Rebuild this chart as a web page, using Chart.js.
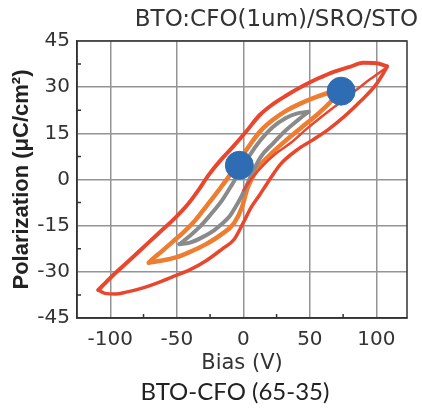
<!DOCTYPE html>
<html>
<head>
<meta charset="utf-8">
<script src="https://cdn.jsdelivr.net/npm/chart.js@4.4.1/dist/chart.umd.min.js"></script>
<style>
  html, body { margin: 0; padding: 0; background: #fff; }
</style>
</head>
<body>
<canvas id="chart" width="422" height="409"></canvas>
<script>
// P-E loops: bias in V, polarization in uC/cm2
const redUpperV = [108, 100, 90, 80, 68, 56, 44, 32, 22, 12, 2, -8, -18, -26, -34, -42, -52, -64, -76, -88, -100, -106, -109];
const redUpperP = [36.8, 37.8, 37.9, 36.6, 35.0, 32.8, 30.2, 27.2, 24.4, 20.8, 15.5, 10.5, 5.8, 1.5, -3.6, -8.2, -12.8, -17.6, -22.4, -27.2, -32.0, -34.6, -35.9];
const redLowerV = [-109, -104, -96, -88, -76, -64, -52, -40, -28, -16, -7, 0, 6, 12, 18, 28, 40, 52, 64, 76, 88, 100, 108];
const redLowerP = [-35.9, -37.0, -37.2, -36.6, -35.3, -33.5, -31.4, -29.3, -26.4, -22.6, -19.5, -14.0, -9.0, -5.2, -1.2, 5.0, 9.5, 12.8, 16.3, 20.5, 25.4, 31.0, 36.5];
const redInitV = [0, 6, 14, 24, 36, 48, 60, 72, 84, 96, 108];
const redInitP = [-3.5, 0.2, 4.2, 8.3, 12.0, 16.6, 20.8, 24.8, 28.8, 32.8, 36.5];

const orangeUpperV = [72, 64, 56, 44, 32, 22, 13, 5, -3, -10, -18, -28, -36, -45, -53, -62, -67, -71];
const orangeUpperP = [28.6, 28.1, 27.0, 24.9, 22.3, 19.3, 15.8, 11.3, 6.2, 1.5, -3.2, -8.8, -13.2, -17.2, -20.2, -23.6, -25.4, -27.0];
const orangeLowerV = [-71, -62, -50, -40, -28, -17, -7, -1, 3, 8, 13, 22, 32, 44, 56, 66, 72];
const orangeLowerP = [-27.0, -26.4, -25.2, -23.5, -21.0, -18.0, -14.2, -9.0, -3.0, 1.5, 4.8, 8.8, 12.7, 17.0, 21.3, 25.4, 28.6];

const grayUpperV = [49, 40, 32, 22, 13, 5, -2, -9, -16, -25, -33, -41, -48];
const grayUpperP = [22.0, 21.4, 20.0, 17.0, 12.8, 8.0, 3.0, -2.0, -6.8, -11.6, -15.5, -18.6, -21.0];
const grayLowerV = [-48, -40, -31, -22, -16, -10, -6, -2, 1, 6, 13, 22, 32, 41, 49];
const grayLowerP = [-21.0, -20.5, -18.8, -16.5, -14.4, -11.8, -9.0, -6.0, -3.4, 1.5, 7.3, 11.6, 16.0, 19.3, 22.0];

const dotV = [-3, 73.5];
const dotP = [4.6, 28.7];

const xMajor = 50, xMinor = 25;
const yMajor = 15, yMinor = 7.5;

const pts = (vs, ps) => vs.map((v, i) => ({ x: v, y: ps[i] }));

const RED = '#e8472e', ORANGE = '#ee7d31', GRAY = '#8a8a8a', BLUE = '#2e6db4';

function loop(data, color, width) {
    return {
        data: data,
        showLine: true,
        borderColor: color,
        borderWidth: width,
        pointRadius: 0,
        cubicInterpolationMode: 'monotone',
        borderCapStyle: 'round',
        borderJoinStyle: 'round'
    };
}

// minor ticks pointing inward, box around the plot, caption under the axis
const extras = {
    id: 'extras',
    afterDraw(chart) {
        const { ctx, chartArea: a, scales: { x, y } } = chart;
        ctx.save();
        ctx.strokeStyle = '#333';
        ctx.lineWidth = 1.5;
        ctx.beginPath();
        x.ticks.forEach(t => {
            if (t.value % xMinor === 0 && t.value % xMajor !== 0 && t.value > x.min) {
                const px = x.getPixelForValue(t.value);
                ctx.moveTo(px, a.bottom);
                ctx.lineTo(px, a.bottom - 4);
            }
        });
        y.ticks.forEach(t => {
            if (t.value % yMajor !== 0) {
                const py = y.getPixelForValue(t.value);
                ctx.moveTo(a.left, py);
                ctx.lineTo(a.left + 4, py);
            }
        });
        ctx.stroke();
        ctx.strokeRect(a.left, a.top, a.right - a.left, a.bottom - a.top);

        ctx.fillStyle = '#222';
        ctx.font = '24px Lato';
        ctx.textAlign = 'center';
        ctx.textBaseline = 'middle';
        ctx.fillText('BTO-CFO (65-35)', 235, 392);
        ctx.restore();
    }
};

new Chart(document.getElementById('chart'), {
    type: 'scatter',
    data: {
        datasets: [
            { data: pts(dotV, dotP), backgroundColor: BLUE, borderColor: BLUE, pointRadius: 14, pointHoverRadius: 14 },
            loop(pts(redInitV, redInitP), RED, 2.5),
            loop(pts(redUpperV, redUpperP), RED, 4),
            loop(pts(redLowerV, redLowerP), RED, 3.5),
            loop(pts(grayUpperV, grayUpperP), GRAY, 4),
            loop(pts(grayLowerV, grayLowerP), GRAY, 4),
            loop(pts(orangeUpperV, orangeUpperP), ORANGE, 4.5),
            loop(pts(orangeLowerV, orangeLowerP), ORANGE, 4.5)
        ]
    },
    options: {
        responsive: false,
        animation: false,
        layout: { padding: { top: 0, right: 4, bottom: 33, left: 0 } },
        plugins: {
            legend: { display: false },
            tooltip: { enabled: false },
            title: {
                display: true,
                text: 'BTO:CFO(1um)/SRO/STO',
                align: 'end',
                color: '#333',
                font: { family: 'DejaVu Sans', size: 23, weight: 'normal' },
                padding: { top: 6, bottom: 7.4 }
            }
        },
        scales: {
            x: {
                type: 'linear',
                min: -125,
                max: 123,
                afterFit: s => { s.height = 58; },
                border: { display: true, color: '#333', width: 1.5 },
                grid: {
                    drawTicks: false,
                    lineWidth: 1.5,
                    color: c => (c.tick && c.tick.value % xMajor === 0) ? '#949494' : 'rgba(0,0,0,0)'
                },
                ticks: {
                    stepSize: xMinor,
                    includeBounds: false,
                    autoSkip: false,
                    maxRotation: 0,
                    padding: 10,
                    color: '#333',
                    font: { family: 'DejaVu Sans', size: 20 },
                    callback: v => v % xMajor === 0 ? String(v) : ''
                },
                title: {
                    display: true,
                    text: 'Bias (V)',
                    color: '#333',
                    font: { family: 'DejaVu Sans', size: 21 },
                    padding: { top: 2, bottom: 0 }
                }
            },
            y: {
                type: 'linear',
                min: -45,
                max: 45,
                afterFit: s => { s.width = 77; },
                border: { display: true, color: '#333', width: 1.5 },
                grid: {
                    drawTicks: false,
                    lineWidth: 1.5,
                    color: c => (c.tick && c.tick.value % yMajor === 0) ? '#949494' : 'rgba(0,0,0,0)'
                },
                ticks: {
                    stepSize: yMinor,
                    autoSkip: false,
                    padding: 7,
                    color: '#333',
                    font: { family: 'DejaVu Sans', size: 20 },
                    callback: v => v % yMajor === 0 ? String(v) : ''
                },
                title: {
                    display: true,
                    text: 'Polarization (μC/cm²)',
                    color: '#222',
                    font: { family: 'Liberation Sans', size: 22, weight: 'bold' },
                    padding: { top: 9, bottom: 0 }
                }
            }
        }
    },
    plugins: [extras]
});
</script>
</body>
</html>
